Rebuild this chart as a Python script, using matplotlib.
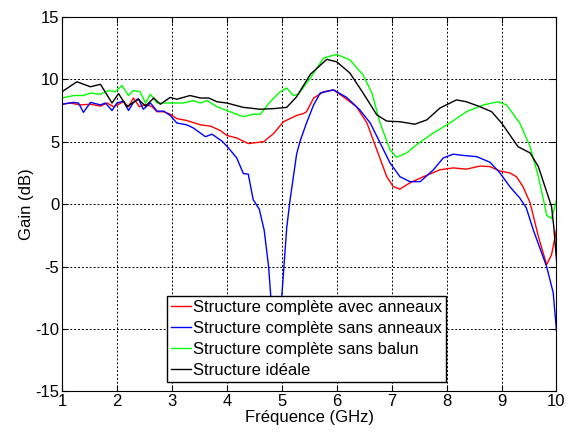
import matplotlib
matplotlib.use("Agg")
from matplotlib import pyplot as plt

plt.rcParams['font.family'] = ['Liberation Sans', 'DejaVu Sans']
plt.rcParams['axes.unicode_minus'] = False

# Structure complète avec anneaux
x_avec = [1.0, 1.15, 1.33, 1.52, 1.70, 1.82, 1.94, 2.12, 2.21, 2.30, 2.41, 2.52, 2.64, 2.73, 2.85, 2.97,
          3.09, 3.27, 3.52, 3.70, 3.88, 4.0, 4.18, 4.39, 4.67, 4.85, 5.03, 5.27, 5.39, 5.45, 5.58, 5.76,
          5.94, 6.12, 6.36, 6.55, 6.73, 6.91, 7.03, 7.15, 7.33, 7.58, 7.88, 8.12, 8.36, 8.61, 8.79, 8.97,
          9.15, 9.27, 9.39, 9.52, 9.67, 9.82, 9.91, 10.0]
y_avec = [8.0, 8.1, 7.95, 8.0, 7.85, 8.1, 7.8, 8.2, 7.8, 8.5, 7.8, 8.0, 7.8, 7.4, 7.4, 7.2,
          6.85, 6.7, 6.35, 6.25, 5.9, 5.5, 5.3, 4.85, 5.0, 5.65, 6.6, 7.1, 7.25, 7.4, 8.5, 9.0,
          9.15, 8.6, 7.8, 6.5, 4.35, 2.2, 1.4, 1.2, 1.7, 2.2, 2.75, 2.9, 2.8, 3.05, 3.0, 2.65,
          2.5, 2.2, 1.4, 0.1, -2.6, -4.85, -4.05, -2.05]

# Structure complète sans anneaux
x_sans = [1.0, 1.21, 1.30, 1.39, 1.52, 1.70, 1.79, 1.91, 2.0, 2.12, 2.21, 2.30, 2.39, 2.48, 2.61, 2.73,
          2.85, 2.97, 3.09, 3.27, 3.39, 3.61, 3.73, 3.91, 4.0, 4.18, 4.30, 4.39, 4.48, 4.59, 4.68, 4.76,
          4.80, 4.88, 5.0, 5.09, 5.15, 5.27, 5.33, 5.45, 5.58, 5.70, 5.94, 6.18, 6.42, 6.61, 6.79, 6.97,
          7.15, 7.33, 7.52, 7.76, 7.94, 8.12, 8.30, 8.55, 8.79, 8.97, 9.15, 9.33, 9.45, 9.58, 9.82, 9.94, 10.0]
y_sans = [8.0, 8.15, 8.1, 7.35, 8.15, 7.95, 8.1, 7.5, 8.1, 8.25, 7.5, 8.15, 8.45, 7.6, 8.1, 7.45,
          7.45, 7.1, 6.5, 6.35, 6.1, 5.4, 5.6, 5.05, 4.65, 3.7, 2.45, 2.4, 0.35, -0.4, -2.1, -5.0,
          -7.4, -9.5, -7.4, -1.9, 0.3, 4.0, 5.0, 6.5, 7.95, 8.9, 9.15, 8.55, 7.55, 6.5, 4.9, 3.3,
          2.2, 1.8, 1.8, 2.75, 3.7, 4.0, 3.9, 3.8, 3.35, 2.5, 1.4, 0.5, -0.3, -2.1, -5.0, -7.1, -10.15]

# Structure complète sans balun
x_balun = [1.0, 1.21, 1.39, 1.52, 1.70, 1.85, 1.97, 2.09, 2.21, 2.30, 2.42, 2.52, 2.61, 2.73, 2.97, 3.21,
           3.39, 3.52, 3.64, 3.82, 4.0, 4.30, 4.48, 4.61, 4.79, 4.97, 5.09, 5.21, 5.30, 5.52, 5.76, 6.0,
           6.24, 6.48, 6.64, 6.79, 6.97, 7.09, 7.27, 7.45, 7.76, 8.06, 8.36, 8.67, 8.94, 9.09, 9.33, 9.52,
           9.67, 9.79, 9.82, 9.91, 10.0]
y_balun = [8.5, 8.7, 8.7, 8.9, 8.8, 9.1, 9.0, 9.5, 8.7, 9.1, 9.0, 8.1, 8.8, 8.1, 8.1, 8.1,
           8.3, 8.1, 8.3, 7.8, 7.5, 7.0, 7.2, 7.2, 8.2, 9.0, 9.3, 8.7, 8.8, 10.1, 11.7, 12.0,
           11.55, 10.35, 8.9, 6.5, 4.35, 3.75, 4.1, 4.75, 5.7, 6.5, 7.4, 7.95, 8.2, 7.95, 6.5, 4.6,
           2.2, -0.2, -0.9, -1.15, 0.3]

# Structure idéale
x_ideal = [1.0, 1.27, 1.52, 1.70, 1.91, 2.03, 2.18, 2.39, 2.52, 2.67, 2.79, 2.97, 3.09, 3.33, 3.52, 3.67,
           3.82, 4.0, 4.30, 4.61, 4.85, 5.09, 5.27, 5.52, 5.82, 6.0, 6.24, 6.48, 6.73, 6.91, 7.15, 7.42,
           7.64, 7.88, 8.18, 8.36, 8.61, 8.82, 9.0, 9.15, 9.30, 9.52, 9.67, 9.79, 9.91, 9.95, 10.0]
y_ideal = [9.0, 9.8, 9.4, 9.6, 8.1, 8.85, 7.8, 8.4, 7.85, 8.5, 8.0, 8.55, 8.4, 8.7, 8.5, 8.5,
           8.2, 8.1, 7.75, 7.6, 7.65, 7.75, 8.6, 10.4, 11.6, 11.4, 10.5, 8.9, 7.15, 6.65, 6.6, 6.4,
           6.75, 7.7, 8.35, 8.2, 7.8, 7.4, 6.5, 5.55, 4.6, 4.1, 3.0, 1.4, -0.2, -1.8, -4.45]

labels = ["Structure complète avec anneaux", "Structure complète sans anneaux",
          "Structure complète sans balun", "Structure idéale"]
xticks = list(range(1, 11))
yticks = [-15, -10, -5, 0, 5, 10, 15]

fig = plt.figure(figsize=(5.73, 4.32), dpi=100)
ax = fig.add_axes([0.1082, 0.0942, 0.863, 0.8667])

ax.plot(x_avec, y_avec, color=(1, 0, 0), linewidth=1, label=labels[0])
ax.plot(x_sans, y_sans, color=(0, 0, 1), linewidth=1, label=labels[1])
ax.plot(x_balun, y_balun, color=(0, 1, 0), linewidth=1, label=labels[2])
ax.plot(x_ideal, y_ideal, color="black", linewidth=1, label=labels[3])

ax.set_xlim(1, 10)
ax.set_ylim(-15, 15)
ax.set_xticks(xticks)
ax.set_yticks(yticks)
ax.tick_params(direction='in', top=True, right=True, labelsize=12, length=4, pad=2)
ax.grid(True, color='black', linestyle=(0, (2, 2)), linewidth=0.7)
ax.set_xlabel("Fréquence (GHz)", fontsize=12, labelpad=1)
ax.set_ylabel("Gain (dB)", fontsize=12, labelpad=1)

leg = ax.legend(loc='upper left', bbox_to_anchor=(0.212, 0.2545), borderaxespad=0,
                fontsize=12, fancybox=False, framealpha=1, edgecolor='black',
                handlelength=1.2, handletextpad=0.1, labelspacing=0.36, borderpad=0.25)
leg.get_frame().set_linewidth(1)
leg.set_zorder(5)

fig.savefig("out.png", dpi=100)
